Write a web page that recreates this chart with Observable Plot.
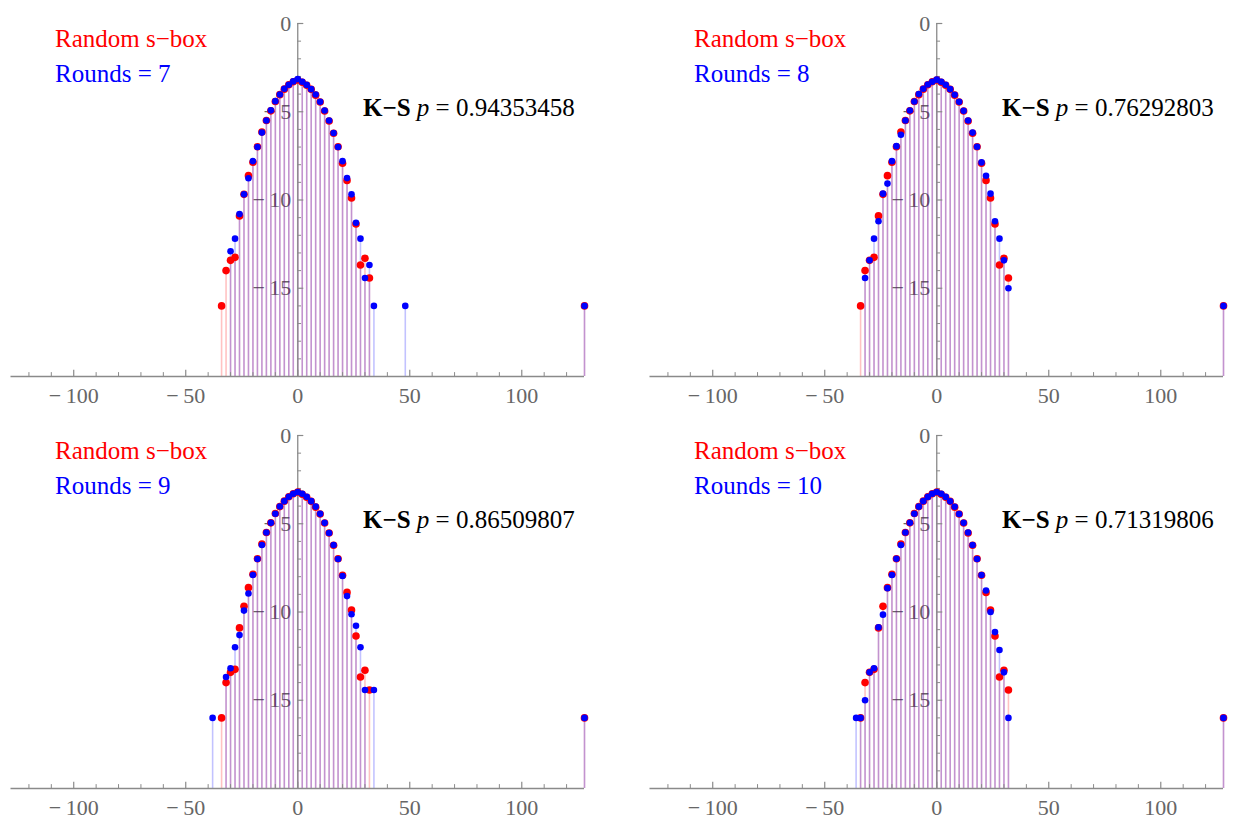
<!DOCTYPE html>
<html><head><meta charset="utf-8">
<script src="https://cdn.jsdelivr.net/npm/d3@7"></script>
<script src="https://cdn.jsdelivr.net/npm/@observablehq/plot@0.6"></script>
<style>
body{margin:0;background:#fff;width:1235px;height:823px;overflow:hidden;position:relative;font-family:"Liberation Serif",serif}
.panel{position:absolute;width:600px;height:412px}
.lab{position:absolute;font-size:25px;line-height:25px;white-space:nowrap;font-family:"Liberation Serif",serif}
</style></head><body>
<script>
// LAT value (x) — even values, plus the lone outliers
const lat = [-38,-36,-34,-32,-30,-28,-26,-24,-22,-20,-18,-16,-14,-12,-10,-8,-6,-4,-2,0,2,4,6,8,10,12,14,16,18,20,22,24,26,28,30,32,34,48,128];
// log2 frequency, random s-box (red)
const redRandom = [null,null,-16,-14,-13.42,-13.25,-10.9,-9.68,-8.62,-7.86,-6.98,-6.15,-5.5,-4.95,-4.42,-4.03,-3.72,-3.47,-3.3,-3.2,-3.33,-3.5,-3.73,-4.06,-4.45,-4.96,-5.52,-6.22,-6.98,-7.92,-8.89,-9.89,-11.36,-13.68,-13.3,-14.42,null,null,-16];
// log2 frequency for reduced-round ciphers (blue)
const blue7 = [null,null,null,null,-12.9,-12.19,-10.8,-9.68,-8.77,-7.8,-7.0,-6.18,-5.5,-4.92,-4.4,-4.02,-3.7,-3.47,-3.28,-3.15,-3.3,-3.48,-3.72,-4.02,-4.43,-4.93,-5.5,-6.2,-7.0,-7.8,-8.76,-9.68,-11.29,-12.19,-14.42,-13.68,-16,-16,-16];
const blue8 = [null,null,null,-14.42,-13.42,-12.19,-11.2,-9.64,-9.07,-7.8,-6.95,-6.3,-5.5,-4.93,-4.42,-4.0,-3.7,-3.46,-3.3,-3.18,-3.3,-3.47,-3.72,-4.04,-4.43,-4.95,-5.5,-6.18,-6.98,-7.87,-8.63,-9.64,-11.2,-12.19,-13.42,-15,null,null,-16];
const blue9 = [-16,null,null,-13.68,-13.19,-12.0,-11.31,-9.92,-8.95,-7.9,-7.0,-6.2,-5.5,-4.95,-4.43,-4.02,-3.72,-3.47,-3.3,-3.2,-3.3,-3.47,-3.72,-4.03,-4.44,-4.95,-5.52,-6.2,-7.0,-7.96,-9.1,-10.13,-10.78,-12.0,-14.42,null,-14.42,null,-16];
const blue10 = [null,-16,-16,-15,-13.42,-13.19,-10.86,-10.15,-8.65,-7.9,-6.98,-6.2,-5.5,-4.94,-4.43,-4.03,-3.72,-3.48,-3.3,-3.2,-3.3,-3.48,-3.73,-4.04,-4.45,-4.95,-5.5,-6.2,-7.0,-7.9,-8.78,-10.0,-11.14,-12.15,-13.42,-16,null,null,-16];
const rounds = [7,8,9,10];
const ksP = ["0.94353458","0.76292803","0.86509807","0.71319806"];
const xMajor = [-100,-50,0,50,100];
const xMinor = [-120,-110,-90,-80,-70,-60,-40,-30,-20,-10,10,20,30,40,60,70,80,90,110,120];
const yMajor = [0,-5,-10,-15];
const yMinor = [-1,-2,-3,-4,-6,-7,-8,-9,-11,-12,-13,-14,-16,-17,-18,-19];

const blues = [blue7, blue8, blue9, blue10];
const pos = [[0,0],[639,0],[0,412],[639,412]];
const AX = "#8a8a8a", LBL = "#666";
const fam = "Liberation Serif, serif";
const minus = s => String(s).replace("-", "\u2212\u2009");

blues.forEach((blue, i) => {
  const R = lat.map((x, j) => ({x, y: redRandom[j]})).filter(d => d.y != null);
  const B = lat.map((x, j) => ({x, y: blue[j]})).filter(d => d.y != null);
  const chart = Plot.plot({
    width: 600, height: 412,
    marginLeft: 10.5, marginRight: 16, marginTop: 23, marginBottom: 36,
    x: {domain: [-128, 128], axis: null},
    y: {domain: [-20, 0], axis: null},
    marks: [
      Plot.text(yMajor, {x: 0, y: d => d, text: d => minus(d), textAnchor: "end", dx: -6.5, fill: LBL, fontSize: 22, fontFamily: fam}),
      Plot.text(xMajor, {x: d => d, y: -20, text: d => minus(d), dy: 19, fill: LBL, fontSize: 22, fontFamily: fam}),
      Plot.ruleX(R, {x: "x", y1: -20, y2: "y", stroke: "red", strokeOpacity: 0.24, strokeWidth: 1.6}),
      Plot.ruleX(B, {x: "x", y1: -20, y2: "y", stroke: "blue", strokeOpacity: 0.24, strokeWidth: 1.6}),
      Plot.ruleY([-20], {stroke: AX, strokeWidth: 1.3}),
      Plot.ruleX([0], {stroke: AX, strokeWidth: 1.3}),
      Plot.ruleX(xMajor, {x: d => d, y1: -20, y2: -19.65, stroke: AX, strokeWidth: 1.2}),
      Plot.ruleX(xMinor, {x: d => d, y1: -20, y2: -19.78, stroke: AX, strokeWidth: 1}),
      Plot.ruleY(yMajor, {y: d => d, x1: 0, x2: 2.7, stroke: AX, strokeWidth: 1.2}),
      Plot.ruleY(yMinor, {y: d => d, x1: 0, x2: 1.7, stroke: AX, strokeWidth: 1}),
      Plot.dot(R, {x: "x", y: "y", r: 3.8, fill: "red", stroke: "none"}),
      Plot.dot(B, {x: "x", y: "y", r: 3.3, fill: "blue", stroke: "none"})
    ]
  });
  const div = document.createElement("div");
  div.className = "panel";
  div.style.left = pos[i][0] + "px";
  div.style.top = pos[i][1] + "px";
  div.appendChild(chart);
  const l1 = document.createElement("div");
  l1.className = "lab"; l1.style.left = "55px"; l1.style.top = "26px"; l1.style.color = "red";
  l1.textContent = "Random s\u2212box";
  const l2 = document.createElement("div");
  l2.className = "lab"; l2.style.left = "55px"; l2.style.top = "61px"; l2.style.color = "blue";
  l2.textContent = "Rounds = " + rounds[i];
  const l3 = document.createElement("div");
  l3.className = "lab"; l3.style.left = "363px"; l3.style.top = "95px"; l3.style.color = "#000";
  l3.innerHTML = '<span style="font-weight:600">K\u2212S</span> <i>p</i> = ' + ksP[i];
  div.appendChild(l1); div.appendChild(l2); div.appendChild(l3);
  document.body.appendChild(div);
});
</script>
</body></html>
